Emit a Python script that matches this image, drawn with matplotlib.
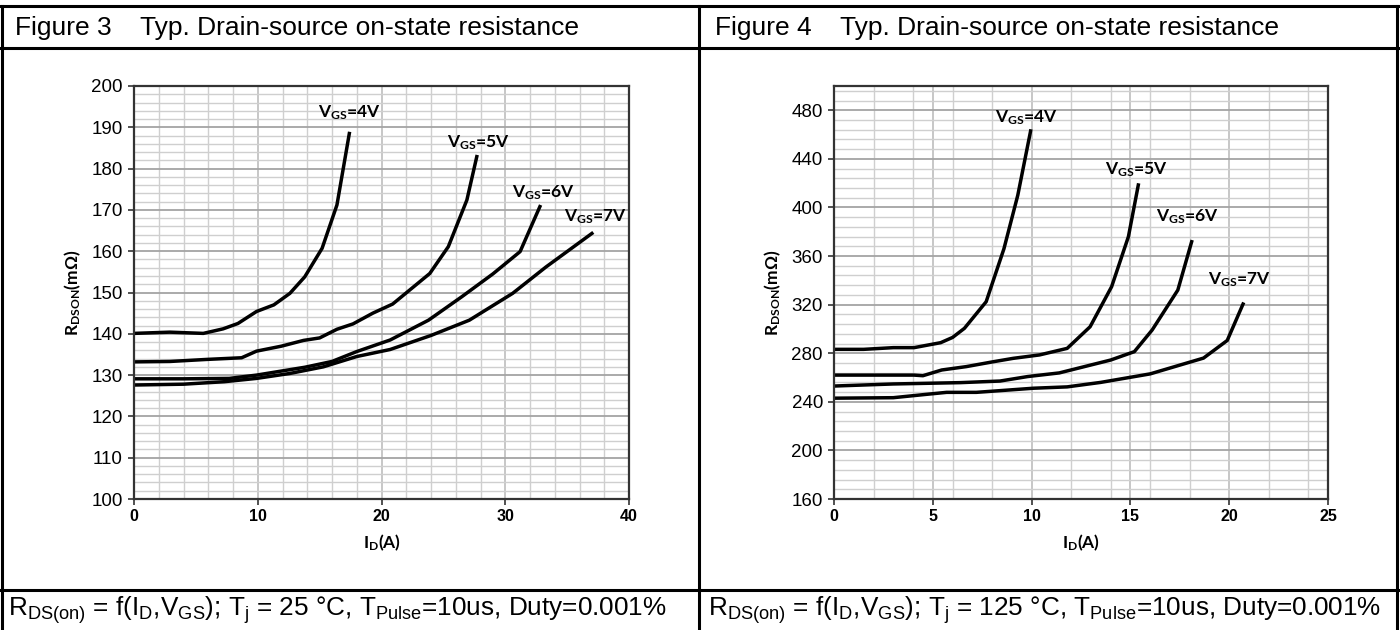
import matplotlib
matplotlib.use("Agg")
import matplotlib.pyplot as plt
from matplotlib.ticker import MultipleLocator
from matplotlib.lines import Line2D

plt.rcParams['font.family'] = ['Liberation Sans', 'DejaVu Sans']
plt.rcParams['mathtext.default'] = 'regular'

# Figure 3, Tj = 25 C  (I_D in A, R_DSON in mOhm)
i_4v_25 = [0, 2.9, 5.6, 7.2, 8.4, 9.9, 11.3, 12.6, 13.8, 15.2, 16.4, 17.4]
r_4v_25 = [140.1, 140.4, 140.1, 141.2, 142.5, 145.4, 147.0, 149.8, 153.8, 160.7, 171.2, 188.5]
i_5v_25 = [0, 2.9, 5.9, 8.7, 9.9, 11.9, 13.7, 15.0, 16.4, 17.7, 19.3, 20.9, 23.9, 25.4, 26.9, 27.7]
r_5v_25 = [133.2, 133.3, 133.8, 134.2, 135.8, 137.0, 138.4, 139.0, 141.1, 142.4, 145.0, 147.2, 154.6, 161.1, 172.4, 182.9]
i_6v_25 = [0, 4.0, 7.7, 9.9, 13.8, 16.0, 18.0, 20.7, 23.8, 26.5, 29.0, 31.2, 32.8]
r_6v_25 = [129.1, 129.1, 129.2, 130.0, 131.9, 133.3, 135.7, 138.5, 143.3, 149.0, 154.5, 159.9, 170.8]
i_7v_25 = [0, 4.0, 7.3, 9.9, 12.6, 15.3, 18.0, 20.7, 24.0, 27.1, 30.6, 33.3, 37.0]
r_7v_25 = [127.6, 127.8, 128.4, 129.2, 130.4, 132.0, 134.5, 136.2, 139.6, 143.3, 149.8, 156.2, 164.3]

# Figure 4, Tj = 125 C
i_4v_125 = [0, 1.5, 3.0, 4.05, 5.4, 6.0, 6.6, 7.7, 8.6, 9.3, 9.95]
r_4v_125 = [283.2, 283.2, 284.6, 284.6, 288.7, 293.0, 300.5, 322.4, 366.0, 410.0, 463.0]
i_5v_125 = [0, 2.0, 4.05, 4.5, 5.45, 6.7, 8.06, 9.07, 10.4, 11.8, 12.96, 14.05, 14.9, 15.4]
r_5v_125 = [262.0, 262.0, 262.0, 261.5, 266.2, 269.0, 273.0, 275.8, 278.6, 284.0, 301.8, 334.8, 376.0, 418.5]
i_6v_125 = [0, 3.0, 6.4, 8.4, 9.8, 11.4, 14.0, 15.2, 16.1, 17.4, 18.1]
r_6v_125 = [253.0, 254.7, 255.8, 257.1, 260.8, 263.8, 274.4, 281.3, 299.1, 332.0, 371.8]
i_7v_125 = [0, 3.0, 4.7, 5.7, 7.2, 8.4, 10.1, 11.8, 13.5, 16.0, 18.7, 19.9, 20.7]
r_7v_125 = [243.0, 243.4, 246.2, 247.8, 247.8, 249.2, 251.2, 252.3, 256.0, 263.0, 276.0, 290.5, 320.5]

vgs_labels = ['4V', '5V', '6V', '7V']
label_pos_25 = [(17.4, 193.5), (27.8, 186.2), (33.1, 174.2), (37.3, 168.4)]
label_pos_125 = [(9.75, 473.7), (15.3, 430.9), (17.9, 392.4), (20.5, 340.3)]

titles = ['Figure 3', 'Figure 4']
title_text = 'Typ. Drain-source on-state resistance'
footers = ['R$_{DS(on)}$ = f(I$_D$,V$_{GS}$); T$_j$ = 25 °C, T$_{Pulse}$=10us, Duty=0.001%',
           'R$_{DS(on)}$ = f(I$_D$,V$_{GS}$); T$_j$ = 125 °C, T$_{Pulse}$=10us, Duty=0.001%']

bold_font = ['Lato', 'DejaVu Sans']


def draw_panel(ax, curves, label_pos, xlim, ylim, xmajor, yticks, yminor):
    ax.set_xlim(*xlim)
    ax.set_ylim(*ylim)
    ax.xaxis.set_major_locator(MultipleLocator(xmajor))
    ax.xaxis.set_minor_locator(MultipleLocator(2))
    ax.set_yticks(yticks)
    ax.yaxis.set_minor_locator(MultipleLocator(yminor))
    ax.grid(which='minor', color='#cfcfcf', lw=1.0)
    ax.grid(which='major', axis='y', color='#a4a4a4', lw=1.3)
    ax.grid(which='major', axis='x', color='#bdbdbd', lw=1.2)
    ax.set_axisbelow(True)
    for x, y in curves:
        ax.plot(x, y, color='black', lw=2.5, solid_joinstyle='round')
    for (lx, ly), v in zip(label_pos, vgs_labels):
        ax.text(lx, ly, 'V$_{GS}$=' + v, ha='center', va='center', fontsize=12.5,
                fontweight='bold', family=bold_font)
    for s in ax.spines.values():
        s.set_color('#333333')
        s.set_linewidth(1.6)
    ax.tick_params(which='major', direction='out', length=4, width=1.2, color='#333333')
    ax.tick_params(which='minor', length=0)
    ax.tick_params(axis='y', labelsize=13.5, pad=4)
    ax.tick_params(axis='x', labelsize=11.5, pad=3)
    for lbl in ax.get_xticklabels():
        lbl.set_fontweight('bold')
        lbl.set_family(['Liberation Sans Narrow', 'Liberation Sans'])
    ax.set_xlabel('I$_D$(A)', fontsize=12.5, fontweight='bold', family=bold_font, labelpad=6)
    ax.set_ylabel('R$_{DSON}$(mΩ)', fontsize=12.5, fontweight='bold', family=bold_font, labelpad=6)


fig = plt.figure(figsize=(14, 6.3), dpi=100)

ax1 = fig.add_axes([134 / 1400, 131 / 630, 495 / 1400, 413 / 630])
draw_panel(ax1, [(i_4v_25, r_4v_25), (i_5v_25, r_5v_25), (i_6v_25, r_6v_25), (i_7v_25, r_7v_25)],
           label_pos_25, (0, 40), (100, 200), 10, range(100, 201, 10), 2)

ax2 = fig.add_axes([834 / 1400, 131 / 630, 494 / 1400, 413 / 630])
draw_panel(ax2, [(i_4v_125, r_4v_125), (i_5v_125, r_5v_125), (i_6v_125, r_6v_125), (i_7v_125, r_7v_125)],
           label_pos_125, (0, 25), (160, 500), 5, range(160, 481, 40), 8)

# table frame
frame = dict(color='black', lw=2.2, transform=fig.transFigure)
fig.add_artist(Line2D([0, 1], [1 - 6 / 630, 1 - 6 / 630], **frame))
fig.add_artist(Line2D([0, 1], [1 - 48 / 630, 1 - 48 / 630], **frame))
fig.add_artist(Line2D([0, 1], [1 - 590 / 630, 1 - 590 / 630], **frame))
fig.add_artist(Line2D([1.5 / 1400, 1.5 / 1400], [0, 1 - 6 / 630], **frame))
fig.add_artist(Line2D([699 / 1400, 699 / 1400], [0, 1 - 6 / 630], **frame))
fig.add_artist(Line2D([1397 / 1400, 1397 / 1400], [0, 1 - 6 / 630], **frame))

for k, x0 in enumerate([0, 700]):
    fig.text((x0 + 15) / 1400, 1 - 28 / 630, titles[k], fontsize=19, va='center', ha='left')
    fig.text((x0 + 140) / 1400, 1 - 28 / 630, title_text, fontsize=19, va='center', ha='left')
    fig.text((x0 + 8) / 1400, 1 - 610 / 630, footers[k], fontsize=18.8, va='center', ha='left')

fig.savefig('out.png', dpi=100)
